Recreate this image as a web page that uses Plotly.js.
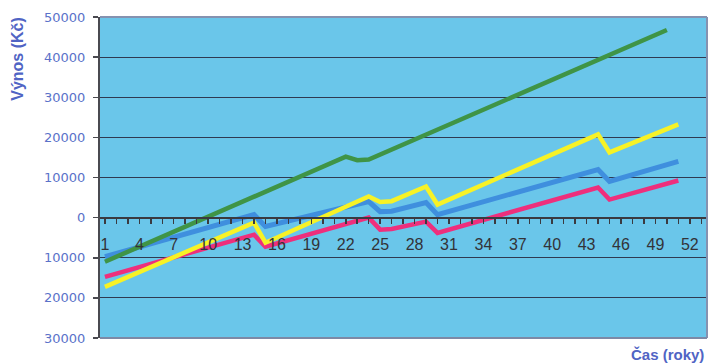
<!DOCTYPE html>
<html>
<head>
<meta charset="utf-8">
<script src="https://cdn.plot.ly/plotly-3.0.1.min.js"></script>
<style>
  html, body { margin: 0; padding: 0; background: #ffffff; }
  #chart { width: 709px; height: 363px; }
</style>
</head>
<body>
<div id="chart"></div>
<script>
// Years (vertices) and yields in Kč
const greenYears  = [1, 22, 23, 24, 50];
const greenValues = [-11000, 15200, 14300, 14500, 46750];

const yellowYears  = [1, 14, 15, 24, 25, 26, 29, 30, 44, 45, 51];
const yellowValues = [-17250, -1250, -6250, 5250, 3900, 4100, 7750, 3250, 20750, 16250, 23250];

const blueYears  = [1, 14, 15, 24, 25, 26, 29, 30, 44, 45, 51];
const blueValues = [-9750, 750, -2200, 4000, 1500, 1600, 3750, 750, 12000, 9000, 14000];

const pinkYears  = [1, 14, 15, 24, 25, 26, 29, 30, 44, 45, 51];
const pinkValues = [-14750, -4250, -7250, 0, -3000, -2850, -1000, -3800, 7500, 4500, 9250];

// Axis ticks
const xTickVals = [];
for (let i = 1; i <= 53; i++) xTickVals.push(i);
const xLabelYears = [1, 4, 7, 10, 13, 16, 19, 22, 25, 28, 31, 34, 37, 40, 43, 46, 49, 52];
const xTickText = xTickVals.map(v => xLabelYears.includes(v) ? String(v) : '');

const yTickVals = [-30000, -20000, -10000, 0, 10000, 20000, 30000, 40000, 50000];
const yTickText = ['30000', '20000', '10000', '0', '10000', '20000', '30000', '40000', '50000'];

const yTitle = 'Výnos (Kč)';
const xTitle = 'Čas (roky)';

function line(x, y, color, width) {
  return { x: x, y: y, type: 'scatter', mode: 'lines',
           line: { color: color, width: width, shape: 'linear' },
           hoverinfo: 'skip', showlegend: false };
}

const data = [
  line(pinkYears, pinkValues, '#ee2f7c', 4.5),
  line(blueYears, blueValues, '#3f8fde', 5),
  line(yellowYears, yellowValues, '#f7f226', 4.5),
  line(greenYears, greenValues, '#3f9446', 4.5)
];

const titleBlue = '#5064c4';

const layout = {
  width: 709, height: 363,
  margin: { l: 100, r: 2, t: 17, b: 25, pad: 0 },
  paper_bgcolor: '#ffffff',
  plot_bgcolor: '#6ac6ea',
  showlegend: false,
  xaxis: {
    range: [0.57, 53.5],
    anchor: 'free', position: 0.375,
    showgrid: false, zeroline: false,
    showline: true, linecolor: '#3a3a40', linewidth: 2,
    ticks: 'outside', ticklen: 5, tickwidth: 1.5, tickcolor: '#3a3a40',
    tickvals: xTickVals, ticktext: xTickText,
    ticklabelstandoff: 7,
    tickfont: { family: 'Liberation Sans, Arial, sans-serif', size: 16, color: '#333338' }
  },
  yaxis: {
    range: [-30000, 50000],
    tickvals: yTickVals, ticktext: yTickText,
    showgrid: true, gridcolor: '#2f3a52', gridwidth: 1,
    zeroline: false,
    showline: true, linecolor: '#4a4a50', linewidth: 2,
    ticks: 'outside', ticklen: 5, tickwidth: 1.5, tickcolor: '#4a4a50',
    ticklabelstandoff: 5,
    tickfont: { family: 'DejaVu Sans, sans-serif', size: 13, color: '#5a72c9' }
  },
  shapes: [
    { type: 'line', xref: 'paper', yref: 'paper', x0: 0, x1: 1, y0: 1, y1: 1,
      line: { color: '#8592b0', width: 2 }, layer: 'above' },
    { type: 'line', xref: 'paper', yref: 'paper', x0: 1, x1: 1, y0: 0, y1: 1,
      line: { color: '#8592b0', width: 2 }, layer: 'above' },
    { type: 'line', xref: 'paper', yref: 'paper', x0: 0, x1: 1, y0: 0, y1: 0,
      line: { color: '#7d89a6', width: 2 }, layer: 'above' }
  ],
  annotations: [
    { text: yTitle, xref: 'paper', yref: 'paper', x: -0.135, y: 0.87,
      xanchor: 'center', yanchor: 'middle', textangle: -90, showarrow: false,
      font: { family: 'Liberation Sans, Arial, sans-serif', size: 16, color: titleBlue, weight: 'bold' } },
    { text: xTitle, xref: 'paper', yref: 'paper', x: 0.997, y: -0.05,
      xanchor: 'right', yanchor: 'middle', showarrow: false, borderpad: 0,
      font: { family: 'Liberation Sans, Arial, sans-serif', size: 15, color: titleBlue, weight: 'bold' } }
  ]
};

Plotly.newPlot('chart', data, layout, { displayModeBar: false, staticPlot: true });
</script>
</body>
</html>
